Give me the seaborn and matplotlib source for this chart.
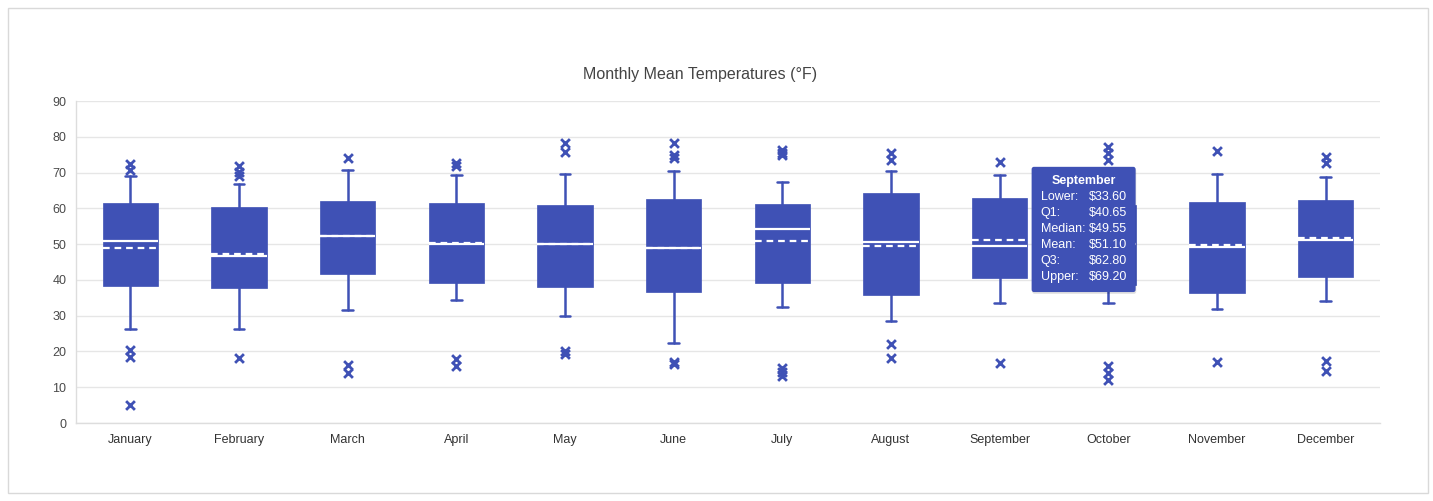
import matplotlib
matplotlib.use("Agg")
import matplotlib.pyplot as plt
from matplotlib.patches import Rectangle, FancyBboxPatch
import pandas as pd
import seaborn as sns

# Box summary values (September from its tooltip)
months = ["January", "February", "March", "April", "May", "June",
          "July", "August", "September", "October", "November", "December"]
lower = [26.4, 26.4, 31.6, 34.4, 29.9, 22.4, 32.4, 28.6, 33.60, 33.6, 31.9, 34.2]
q1 = [38.2, 37.8, 41.6, 39.2, 38.1, 36.7, 39.2, 35.9, 40.65, 38.6, 36.2, 40.9]
median = [51.0, 46.8, 52.4, 50.1, 50.1, 49.0, 54.3, 50.7, 49.55, 50.0, 49.3, 51.2]
mean = [49.0, 47.3, 52.4, 50.4, 49.9, 49.0, 50.9, 49.6, 51.10, 49.2, 49.7, 51.8]
q3 = [61.5, 60.3, 62.0, 61.4, 60.8, 62.5, 61.1, 64.2, 62.80, 61.0, 61.7, 62.2]
upper = [69.0, 66.8, 70.7, 69.4, 69.6, 70.5, 67.4, 70.5, 69.20, 70.0, 69.6, 68.8]
outliers = [
    [72.4, 70.7, 20.4, 18.5, 5.1],
    [71.8, 70.2, 69.0, 18.1],
    [74.1, 16.3, 14.1],
    [72.8, 71.8, 18.0, 15.9],
    [78.3, 75.8, 20.2, 19.2],
    [78.2, 75.0, 74.2, 17.1, 16.5],
    [76.3, 75.5, 74.8, 15.3, 14.2, 13.0],
    [75.5, 73.5, 22.1, 18.1],
    [73.0, 16.9],
    [77.2, 75.5, 73.5, 15.9, 14.1, 12.0],
    [76.0, 17.0],
    [74.4, 72.8, 17.4, 14.6],
]

BLUE = "#3F51B5"

sns.set_style("white")
plt.rcParams["font.family"] = ["Liberation Sans", "DejaVu Sans"]

fig = plt.figure(figsize=(14.33, 5.01), dpi=100)
fig.patches.append(Rectangle((8 / 1433, 8 / 501), 1420 / 1433, 485 / 501,
                             transform=fig.transFigure, facecolor="white",
                             edgecolor="#d9d9d9", linewidth=1, zorder=-1))
ax = fig.add_axes([76 / 1433, 78 / 501, 1304 / 1433, 322 / 501])
ax.set_facecolor("none")

stats = []
for i in range(len(months)):
    stats.append({"whislo": lower[i], "q1": q1[i], "med": median[i],
                  "mean": mean[i], "q3": q3[i], "whishi": upper[i], "fliers": []})

ax.bxp(stats, positions=range(len(months)), widths=0.51, patch_artist=True,
       showmeans=True, meanline=True, showfliers=False, manage_ticks=False,
       capwidths=0.1,
       boxprops=dict(facecolor=BLUE, edgecolor=BLUE, linewidth=0.5),
       medianprops=dict(color="white", linewidth=1.6),
       meanprops=dict(color="white", linestyle=(0, (3, 2.2)), linewidth=1.6),
       whiskerprops=dict(color=BLUE, linewidth=1.8),
       capprops=dict(color=BLUE, linewidth=1.8))

out_df = pd.DataFrame([(i, v) for i, vals in enumerate(outliers) for v in vals],
                      columns=["pos", "temp"])
sns.scatterplot(data=out_df, x="pos", y="temp", ax=ax, marker="x",
                color=BLUE, s=40, linewidth=2, zorder=3)

ax.set_xlim(-0.5, len(months) - 0.5)
ax.set_ylim(0, 90)
ax.set_yticks(range(0, 91, 10))
ax.set_xticks(range(len(months)))
ax.set_xticklabels(months)
ax.set_xticks([i - 0.5 for i in range(len(months) + 1)], minor=True)
ax.tick_params(axis="x", which="major", length=0, pad=8, labelsize=9, labelcolor="#333333")
ax.tick_params(axis="x", which="minor", length=5, color="#dddddd", width=1)
ax.tick_params(axis="y", length=0, pad=7, labelsize=9, labelcolor="#4a4a4a")
ax.set_xlabel("")
ax.set_ylabel("")
ax.yaxis.grid(True, color="#e6e6e6", linewidth=1)
ax.set_axisbelow(True)
for side in ["top", "right"]:
    ax.spines[side].set_visible(False)
for side in ["left", "bottom"]:
    ax.spines[side].set_color("#dddddd")
    ax.spines[side].set_linewidth(1)

fig.text(700 / 1433, 1 - 74 / 501, "Monthly Mean Temperatures (°F)", fontsize=11.5,
         color="#444444", ha="center", va="center")

# tooltip on September
k = months.index("September")
shadow = FancyBboxPatch((k + 0.300, 36.1), 0.957, 35.0,
                        boxstyle="round,pad=0,rounding_size=0.02",
                        facecolor="#000000", alpha=0.12, edgecolor="none", zorder=9,
                        mutation_aspect=36)
ax.add_patch(shadow)
tip = FancyBboxPatch((k + 0.294, 36.6), 0.957, 35.0,
                     boxstyle="round,pad=0,rounding_size=0.02",
                     facecolor=BLUE, edgecolor="none", zorder=10,
                     mutation_aspect=36)
ax.add_patch(tip)
ax.text(k + 0.773, 67.6, months[k], color="white", fontsize=9, fontweight="bold",
        ha="center", va="center", zorder=11)
rows = [("Lower:", lower[k]), ("Q1:", q1[k]), ("Median:", median[k]),
        ("Mean:", mean[k]), ("Q3:", q3[k]), ("Upper:", upper[k])]
for j, (lab, val) in enumerate(rows):
    yy = 63.2 - j * 4.47
    ax.text(k + 0.377, yy, lab, color="white", fontsize=9, ha="left", va="center", zorder=11)
    ax.text(k + 0.819, yy, f"${val:.2f}", color="white", fontsize=9, ha="left", va="center", zorder=11)

fig.savefig("out.png", dpi=100)
